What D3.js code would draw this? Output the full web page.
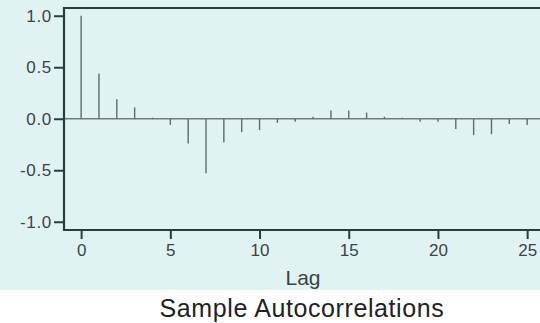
<!DOCTYPE html>
<html>
<head>
<meta charset="utf-8">
<script src="https://d3js.org/d3.v7.min.js"></script>
<style>
  body { margin: 0; background: #ffffff; }
  svg { display: block; font-family: "Liberation Sans", Arial, sans-serif; }
</style>
</head>
<body>
<div id="chart"></div>
<script>

// lags and sample autocorrelations
var lags = [0, 1, 2, 3, 4, 5, 6, 7, 8, 9, 10, 11, 12, 13, 14, 15, 16, 17, 18, 19, 20, 21, 22, 23, 24, 25];
var acf  = [1.0, 0.44, 0.19, 0.11, 0.01, -0.06, -0.24, -0.53, -0.23, -0.13, -0.11, -0.04, -0.03, 0.02,
            0.08, 0.08, 0.06, 0.02, 0.01, -0.03, -0.03, -0.10, -0.16, -0.15, -0.05, -0.06];
var xTicks = [0, 5, 10, 15, 20, 25];
var yTicks = [-1, -0.5, 0, 0.5, 1];
var yTickLabels = ["-1.0", "-0.5", "0.0", "0.5", "1.0"];

var W = 540, H = 323;
var margin = {top: 8, right: -5, bottom: 93, left: 64},
    width = W - margin.left - margin.right,
    height = H - margin.top - margin.bottom;

var frameCol = "#233f3e", textCol = "#3a4444";

var svg = d3.select("#chart")
  .append("svg")
    .attr("width", W)
    .attr("height", H);

// light panel behind the axes
svg.append("rect")
  .attr("x", 0).attr("y", 0)
  .attr("width", W).attr("height", 290)
  .attr("fill", "#e0f3f2");

var g = svg.append("g")
  .attr("transform", "translate(" + margin.left + "," + margin.top + ")");

var x = d3.scaleLinear()
  .domain([-0.96, 26])
  .range([0, width]);

var y = d3.scaleLinear()
  .domain([-1.08, 1.075])
  .range([height, 0]);

// zero line
g.append("line")
  .attr("x1", 0).attr("x2", width)
  .attr("y1", y(0)).attr("y2", y(0))
  .attr("stroke", "#6f7e7d")
  .attr("stroke-width", 1.6);

// stems
g.append("g")
  .selectAll("line")
  .data(lags)
  .enter()
  .append("line")
    .attr("x1", function(d) { return x(d); })
    .attr("x2", function(d) { return x(d); })
    .attr("y1", y(0))
    .attr("y2", function(d, i) { return y(acf[i]); })
    .attr("stroke", "#5b6c6e")
    .attr("stroke-width", 1.4);

// axes
var xAxis = g.append("g")
  .attr("transform", "translate(0," + height + ")")
  .call(d3.axisBottom(x).tickValues(xTicks).tickSize(9).tickPadding(5).tickFormat(d3.format("d")));

var yAxis = g.append("g")
  .call(d3.axisLeft(y).tickValues(yTicks).tickSize(10).tickPadding(2)
    .tickFormat(function(d, i) { return yTickLabels[i]; }));

[xAxis, yAxis].forEach(function(a) {
  a.select(".domain").remove();
  a.selectAll(".tick line").attr("stroke", frameCol).attr("stroke-width", 2);
  a.selectAll(".tick text")
    .attr("fill", textCol)
    .style("font-size", "17px")
    .style("font-family", "'Liberation Sans', Arial, sans-serif");
});
yAxis.selectAll(".tick text").style("letter-spacing", "0.7px");

// frame (right side runs off the picture)
g.append("path")
  .attr("d", "M" + (width + 10) + ",0H0V" + height + "H" + (width + 10))
  .attr("fill", "none")
  .attr("stroke", frameCol)
  .attr("stroke-width", 2.2);

svg.append("text")
  .attr("x", 303)
  .attr("y", 285)
  .attr("text-anchor", "middle")
  .attr("fill", textCol)
  .style("font-size", "21px")
  .text("Lag");

svg.append("text")
  .attr("x", 302)
  .attr("y", 317)
  .attr("text-anchor", "middle")
  .attr("fill", "#222")
  .style("font-size", "25px")
  .style("letter-spacing", "0.6px")
  .text("Sample Autocorrelations");
</script>
</body>
</html>
